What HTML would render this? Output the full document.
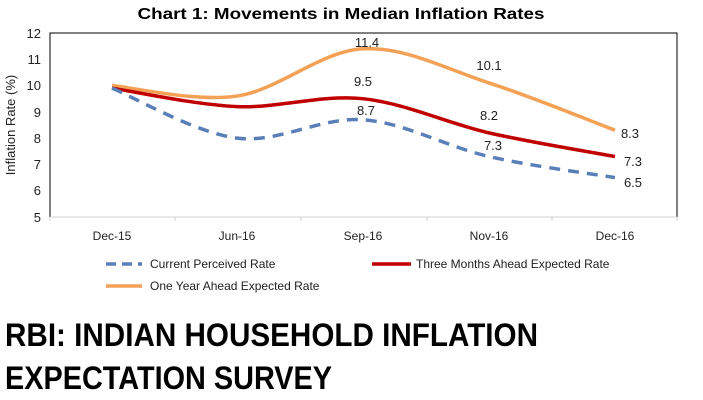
<!DOCTYPE html>
<html><head><meta charset="utf-8"><style>
body{margin:0;background:#fff;}
svg{display:block;font-family:"Liberation Sans",sans-serif;}
</style></head><body>
<svg id="s" width="703" height="400" viewBox="0 0 703 400">
<text x="341" y="19" text-anchor="middle" font-size="16" font-weight="bold" textLength="407" lengthAdjust="spacingAndGlyphs" fill="#000">Chart 1: Movements in Median Inflation Rates</text>
<rect x="50" y="33" width="627" height="184" fill="none" stroke="#000" stroke-width="1"/>
<line x1="50" y1="217" x2="677" y2="217" stroke="#d0d0d0"/>
<g stroke="#d0d0d0"><line x1="50" y1="217" x2="50" y2="221"/><line x1="175" y1="217" x2="175" y2="221"/><line x1="301" y1="217" x2="301" y2="221"/><line x1="427" y1="217" x2="427" y2="221"/><line x1="552" y1="217" x2="552" y2="221"/><line x1="677" y1="217" x2="677" y2="221"/></g>
<g font-size="13" fill="#222" text-anchor="end">
<text x="41" y="38">12</text><text x="41" y="64">11</text><text x="41" y="90">10</text><text x="41" y="117">9</text><text x="41" y="143">8</text><text x="41" y="169">7</text><text x="41" y="195">6</text><text x="41" y="222">5</text>
</g>
<text transform="translate(15,125) rotate(-90)" font-size="13" fill="#222" text-anchor="middle">Inflation Rate (%)</text>
<g font-size="12" fill="#222" text-anchor="middle">
<text x="112" y="240">Dec-15</text><text x="237" y="240">Jun-16</text><text x="363" y="240">Sep-16</text><text x="489" y="240">Nov-16</text><text x="615" y="240">Dec-16</text>
</g>
<path id="p1" fill="none" stroke="#f4a156" stroke-width="3.5"/>
<path id="p2" fill="none" stroke="#c00000" stroke-width="3.5"/>
<path id="p3" fill="none" stroke="#5a7fb8" stroke-width="3.5" stroke-dasharray="11,8"/>
<g font-size="13" fill="#222" text-anchor="middle">
<text x="367" y="47">11.4</text><text x="363" y="86">9.5</text><text x="366" y="115">8.7</text>
<text x="489" y="70">10.1</text><text x="489" y="120">8.2</text><text x="493" y="150">7.3</text>
<text x="630" y="138">8.3</text><text x="633" y="166">7.3</text><text x="633" y="187">6.5</text>
</g>
<g font-size="12" fill="#222">
<line x1="106" y1="264" x2="142" y2="264" stroke="#5a7fb8" stroke-width="3.5" stroke-dasharray="10,6"/>
<text x="150" y="268">Current Perceived Rate</text>
<line x1="372" y1="264" x2="411" y2="264" stroke="#c00000" stroke-width="3.5"/>
<text x="416" y="268">Three Months Ahead Expected Rate</text>
<line x1="106" y1="286" x2="142" y2="286" stroke="#f4a156" stroke-width="3.5"/>
<text x="150" y="290">One Year Ahead Expected Rate</text>
</g>
<g font-size="32" font-weight="bold" fill="#000">
<text x="5" y="346" textLength="533" lengthAdjust="spacingAndGlyphs">RBI: INDIAN HOUSEHOLD INFLATION</text>
<text x="5" y="389" textLength="327" lengthAdjust="spacingAndGlyphs">EXPECTATION SURVEY</text>
</g>
</svg>
<script>
var xs=[112,237,363,489,615];
function y(v){return 217-(v-5)*26.29;}
function path(d){var p=d.map(function(v,i){return [xs[i],y(v)];});
var s="M"+p[0][0]+","+p[0][1];
for(var i=0;i<p.length-1;i++){var a=p[i-1]||p[i],b=p[i],c=p[i+1],e=p[i+2]||c,t=6;
s+=" C"+(b[0]+(c[0]-a[0])/t)+","+(b[1]+(c[1]-a[1])/t)+" "+(c[0]-(e[0]-b[0])/t)+","+(c[1]-(e[1]-b[1])/t)+" "+c[0]+","+c[1];}
return s;}
document.getElementById("p1").setAttribute("d",path([10.0,9.6,11.4,10.1,8.3]));
document.getElementById("p2").setAttribute("d",path([9.9,9.2,9.5,8.2,7.3]));
document.getElementById("p3").setAttribute("d",path([9.9,8.0,8.7,7.3,6.5]));
</script>
</body></html>
